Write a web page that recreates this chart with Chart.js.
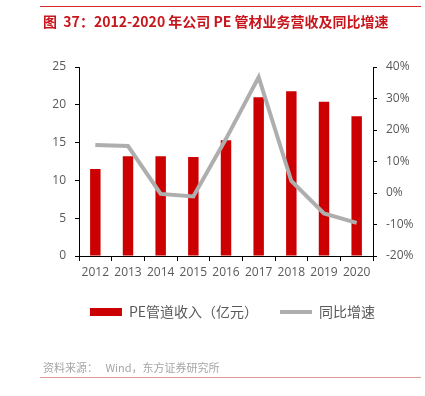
<!DOCTYPE html>
<html>
<head>
<meta charset="utf-8">
<script src="https://cdn.jsdelivr.net/npm/chart.js@4/dist/chart.umd.min.js"></script>
<style>
  html, body { margin: 0; padding: 0; background: #fff; }
  #wrap { position: relative; width: 425px; height: 396px; overflow: hidden; }
  #chartBox { position: absolute; left: 0; top: 0; width: 425px; height: 396px; }
  .topline { position: absolute; left: 40px; top: 6px; width: 381px; height: 1px; background: #d42a2a; }
  .title { position: absolute; left: 43px; top: 12px; font-family: "Noto Sans CJK SC", sans-serif; font-size: 14px; font-weight: bold; color: #c8161d; white-space: nowrap; line-height: 18px; }
  .source { position: absolute; left: 43px; top: 360px; font-family: "Noto Sans CJK SC", sans-serif; font-size: 11px; color: #a6a6a6; white-space: nowrap; line-height: 15px; }
  .botline { position: absolute; left: 40px; top: 377px; width: 381px; height: 1px; background: #e59a9a; }
</style>
</head>
<body>
<div id="wrap">
  <div id="chartBox"><canvas id="c"></canvas></div>
  <div class="topline"></div>
  <div class="title">图&nbsp;&nbsp;37：2012-2020 年公司 PE 管材业务营收及同比增速</div>
  <div class="source">资料来源：&nbsp;&nbsp;&nbsp;Wind，东方证券研究所</div>
  <div class="botline"></div>
</div>
<script>
const categories = ['2012','2013','2014','2015','2016','2017','2018','2019','2020'];
const revenue = [11.5, 13.2, 13.2, 13.1, 15.3, 21.0, 21.8, 20.4, 18.5];
const growthPct = [15.2, 14.9, -0.3, -1.1, 17.2, 36.8, 3.8, -6.5, -9.5];
const revenueLabel = 'PE管道收入（亿元）';
const growthLabel = '同比增速';

const tickFont = { family: '"Open Sans", sans-serif', size: 12 };
const tickColor = '#595959';

new Chart(document.getElementById('c'), {
  data: {
    labels: categories,
    datasets: [
      {
        type: 'bar',
        label: revenueLabel,
        data: revenue,
        yAxisID: 'y',
        backgroundColor: '#cc0000',
        borderWidth: 0,
        barPercentage: 0.32,
        categoryPercentage: 1,
        pointStyle: 'rect',
        order: 2
      },
      {
        type: 'line',
        label: growthLabel,
        data: growthPct,
        yAxisID: 'y1',
        borderColor: '#aeaeae',
        backgroundColor: '#aeaeae',
        borderWidth: 4,
        pointRadius: 0,
        pointStyle: 'line',
        tension: 0,
        order: 1
      }
    ]
  },
  options: {
    responsive: true,
    maintainAspectRatio: false,
    animation: false,
    layout: { padding: { top: 67, left: 40, right: 0, bottom: 67 } },
    plugins: {
      tooltip: { enabled: false },
      legend: {
        position: 'bottom',
        labels: {
          usePointStyle: true,
          pointStyleWidth: 32,
          boxHeight: 8,
          padding: 22,
          color: '#595959',
          font: { family: '"Noto Sans CJK SC", sans-serif', size: 14 },
          sort: (a, b) => a.datasetIndex - b.datasetIndex
        }
      }
    },
    scales: {
      x: {
        grid: { display: true, drawOnChartArea: false, drawTicks: true, tickLength: 5, tickColor: '#000', offset: true },
        border: { display: true, color: '#000', width: 1 },
        ticks: { color: tickColor, font: tickFont, padding: 4, maxRotation: 0, autoSkip: false },
        afterFit: (s) => { s.height = 27; }
      },
      y: {
        position: 'left',
        min: 0, max: 25,
        grid: { display: true, drawOnChartArea: false, drawTicks: true, tickLength: 4, tickColor: '#000' },
        border: { display: true, color: '#000', width: 1 },
        ticks: { stepSize: 5, color: tickColor, font: tickFont, padding: 9 },
        afterFit: (s) => { s.width = 39; }
      },
      y1: {
        position: 'right',
        min: -20, max: 40,
        grid: { display: true, drawOnChartArea: false, drawTicks: true, tickLength: 4, tickColor: '#000' },
        border: { display: true, color: '#000', width: 1 },
        ticks: { stepSize: 10, color: tickColor, font: tickFont, padding: 9, callback: (v) => v + '%' },
        afterFit: (s) => { s.width = 52; }
      }
    }
  }
});
</script>
</body>
</html>
